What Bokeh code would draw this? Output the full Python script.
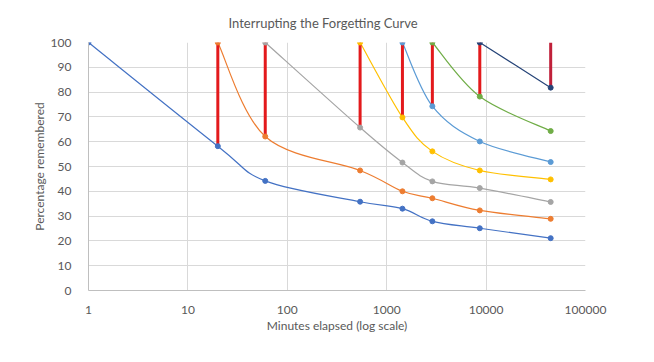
import numpy as np
from bokeh.plotting import figure
from bokeh.models import FixedTicker, Range1d, NumeralTickFormatter
from bokeh.embed import file_html
from bokeh.resources import INLINE

# ---- data ----
minutes = [1, 20, 60, 540, 1440, 2880, 8640, 44640]
curve1 = [100, 58.2, 44.2, 35.8, 33.0, 27.9, 25.1, 21.1]
curve2 = [100, 62.1, 48.4, 40.0, 37.2, 32.3, 28.9]
curve3 = [100, 65.7, 51.6, 44.0, 41.3, 35.7]
curve4 = [100, 69.8, 56.1, 48.4, 44.8]
curve5 = [100, 74.3, 60.1, 51.8]
curve6 = [100, 78.2, 64.3]
curve7 = [100, 81.8]
curves = [curve1, curve2, curve3, curve4, curve5, curve6, curve7]
colors = ["#4472C4", "#ED7D31", "#A5A5A5", "#FFC000", "#5B9BD5", "#70AD47", "#264478"]
y_ticks = [0, 10, 20, 30, 40, 50, 60, 70, 80, 90, 100]
x_ticks = [1, 10, 100, 1000, 10000, 100000]
title_text = "Interrupting the Forgetting Curve"

FONT = "Lato"
TXT = "#595959"
GRID = "#D9D9D9"

p = figure(width=638, height=346, x_axis_type="log",
           x_range=Range1d(1, 100000), y_range=Range1d(0, 100),
           output_backend="svg", toolbar_location=None,
           min_border_left=88, min_border_right=53,
           min_border_top=42, min_border_bottom=56,
           title=title_text)
p.outline_line_color = None
p.background_fill_color = "white"
p.border_fill_color = "white"

p.title.text_font = FONT
p.title.text_font_size = "13px"
p.title.text_font_style = "normal"
p.title.text_color = TXT
p.title.align = "left"
p.title.offset = 140
p.title.standoff = 24

for ax in (p.xaxis[0], p.yaxis[0]):
    ax.major_label_text_font = FONT
    ax.major_label_text_font_size = "12px"
    ax.major_label_text_color = TXT
    ax.axis_label_text_font = FONT
    ax.axis_label_text_font_size = "12px"
    ax.axis_label_text_font_style = "normal"
    ax.axis_label_text_color = TXT
    ax.major_tick_line_color = None
    ax.minor_tick_line_color = None
    ax.axis_line_color = "#BFBFBF"

p.xaxis.ticker = FixedTicker(ticks=x_ticks, minor_ticks=[])
p.yaxis.ticker = FixedTicker(ticks=y_ticks, minor_ticks=[])
p.xaxis.formatter = NumeralTickFormatter(format="0")
p.xaxis.axis_label = "Minutes elapsed (log scale)"
p.yaxis.axis_label = "Percentage remembered"
p.xaxis.major_label_standoff = 9
p.yaxis.major_label_standoff = 11
p.xaxis.axis_label_standoff = 1
p.yaxis.axis_label_standoff = 1

p.xgrid.grid_line_color = GRID
p.ygrid.grid_line_color = GRID
p.xgrid.minor_grid_line_color = None


def smooth(xs, ys):
    """Bezier control points (Catmull-Rom style) in log-x space, like Excel's smoothed lines."""
    u = np.log10(np.array(xs, dtype=float))
    v = np.array(ys, dtype=float)
    n = len(u)
    x0, y0, x1, y1, cx0, cy0, cx1, cy1 = [], [], [], [], [], [], [], []
    for i in range(n - 1):
        a = max(i - 1, 0)
        d = min(i + 2, n - 1)
        c1u = u[i] + (u[i + 1] - u[a]) / 6
        c1v = v[i] + (v[i + 1] - v[a]) / 6
        c2u = u[i + 1] - (u[d] - u[i]) / 6
        c2v = v[i + 1] - (v[d] - v[i]) / 6
        x0.append(10 ** u[i]); y0.append(v[i])
        x1.append(10 ** u[i + 1]); y1.append(v[i + 1])
        cx0.append(10 ** c1u); cy0.append(c1v)
        cx1.append(10 ** c2u); cy1.append(c2v)
    return x0, y0, x1, y1, cx0, cy0, cx1, cy1


# curves
for k, (ys, col) in enumerate(zip(curves, colors)):
    xs = minutes[k:k + len(ys)]
    x0, y0, x1, y1, cx0, cy0, cx1, cy1 = smooth(xs, ys)
    p.bezier(x0=x0, y0=y0, x1=x1, y1=y1, cx0=cx0, cy0=cy0, cx1=cx1, cy1=cy1,
             line_color=col, line_width=1.2)

# red "review" bars: from the previous curve's value up to 100
bar_x = minutes[1:]
bar_bottom = [c[1] for c in curves]
bar_top = [100] * len(bar_x)
bar_colors = ["#E31A1C"] * (len(bar_x) - 1) + ["#C0203A"]
p.segment(x0=bar_x, y0=bar_bottom, x1=bar_x, y1=bar_top,
          line_color=bar_colors, line_width=3)

# markers
for k, (ys, col) in enumerate(zip(curves, colors)):
    xs = minutes[k:k + len(ys)]
    p.scatter(xs, ys, size=5, fill_color=col, line_color=col)

open("out.html", "w").write(file_html(p, INLINE))
